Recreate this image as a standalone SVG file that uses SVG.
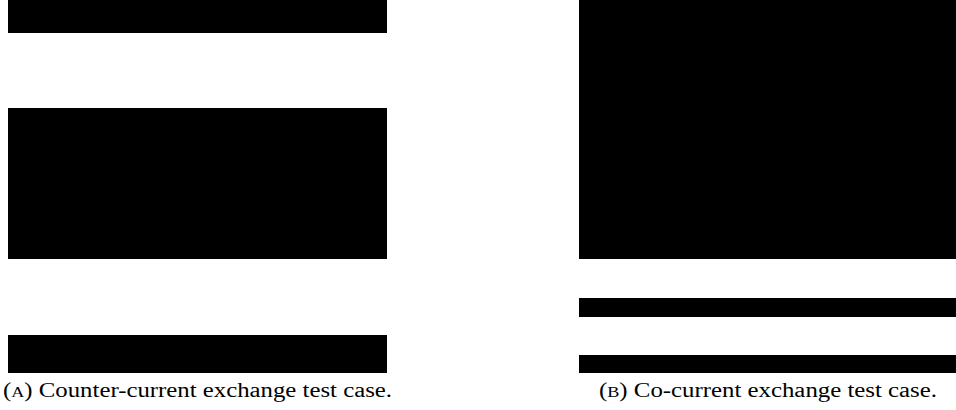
<svg xmlns="http://www.w3.org/2000/svg" width="956" height="410" viewBox="0 0 956 410">
<style>
.bar{fill:#000}
.cap{font-family:"Liberation Serif","DejaVu Serif",serif;font-size:20.5px;fill:#000}
.sc{font-size:15px}
</style>
<rect width="956" height="410" fill="#fff"/>
<g id="panelA">
<rect class="bar" x="8" y="0" width="379" height="33"/>
<rect class="bar" x="8" y="108" width="379" height="151"/>
<rect class="bar" x="8" y="335" width="379" height="38"/>
<text class="cap" x="3" y="397" textLength="389" lengthAdjust="spacingAndGlyphs">(<tspan class="sc">A</tspan>) Counter-current exchange test case.</text>
</g>
<g id="panelB">
<rect class="bar" x="579" y="0" width="377" height="259"/>
<rect class="bar" x="579" y="298" width="377" height="19"/>
<rect class="bar" x="579" y="355" width="377" height="18"/>
<text class="cap" x="599" y="397" textLength="338" lengthAdjust="spacingAndGlyphs">(<tspan class="sc">B</tspan>) Co-current exchange test case.</text>
</g>
</svg>
